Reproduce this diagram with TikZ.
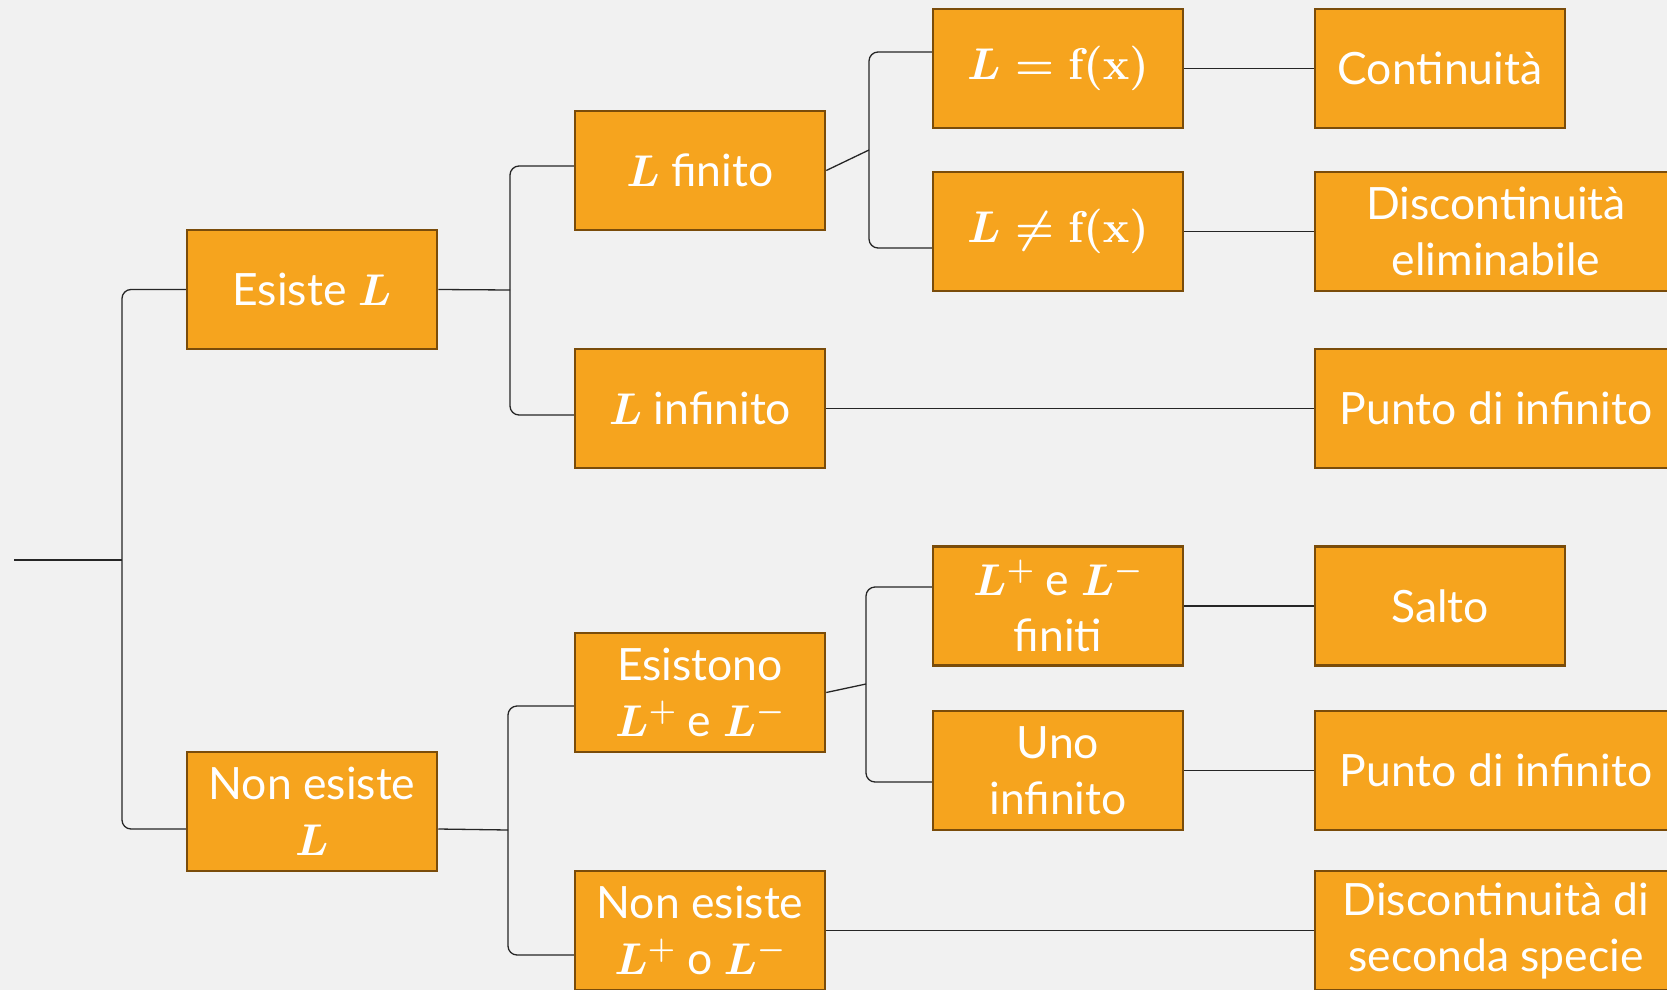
\RequirePackage{fix-cm}
\documentclass[tikz,border=0pt]{standalone}
\usepackage[no-math]{fontspec}
\setmainfont{Lato}
\definecolor{bg}{RGB}{241,241,241}
\definecolor{boxfill}{RGB}{246,164,30}
\definecolor{boxline}{RGB}{122,76,10}
\begin{document}
\begin{tikzpicture}[x=1pt,y=-1pt,
 box/.style={draw=boxline, line width=2.5pt, fill=boxfill, text=white, minimum width=250pt, minimum height=119pt, inner sep=0pt, align=center, font=\fontsize{44.5}{56}\selectfont\boldmath},
 wide/.style={box, minimum width=362pt},
 conn/.style={draw=black!85, line width=1.3pt, rounded corners=9pt}]
\clip (0,0) rectangle (1667,990);
\fill[bg] (0,0) rectangle (1667,990);
% nodes
\node[box] (A) at (312,289.5) {Esiste $L$};
\node[box] (B) at (312,811.5) {Non esiste\\$L$};
\node[box] (C) at (700,170.5) {$L$ finito};
\node[box] (D) at (700,408.5) {$L$ infinito};
\node[box] (E) at (700,692.5) {Esistono\\$L^{+}$ e $L^{-}$};
\node[box] (F) at (700,930.5) {Non esiste\\$L^{+}$ o $L^{-}$};
\node[box] (G) at (1058,68.5) {$L=\mathrm{f}(\mathrm{x})$};
\node[box] (H) at (1058,231.5) {$L\neq\mathrm{f}(\mathrm{x})$};
\node[box] (I) at (1058,606) {$L^{+}$ e $L^{-}$\\finiti};
\node[box] (J) at (1058,770.5) {Uno\\infinito};
\node[box] (K) at (1440,68.5) {Continuità};
\node[wide] (L) at (1496,231.5) {Discontinuità\\eliminabile};
\node[wide] (M) at (1496,408.5) {Punto di infinito};
\node[box] (N) at (1440,606) {Salto};
\node[wide] (O) at (1496,770.5) {Punto di infinito};
\node[wide] (P) at (1496,930.5) {Discontinuità di\\seconda specie};
% connectors
\coordinate (root) at (14,560);
\coordinate (s1) at (122,560);
\draw[conn] (root) -- (s1);
\draw[conn] (A.west) -- (122,289.5) -- (122,829) -- ([yshift=-17.5pt]B.west);
\coordinate (s2) at (510,290);
\draw[conn] (A.east) -- (s2);
\draw[conn] ([yshift=4.5pt]C.west) -- (510,166) -- (510,415) -- ([yshift=-6.5pt]D.west);
\coordinate (s3) at (869,150);
\draw[conn] (C.east) -- (s3);
\draw[conn] ([yshift=16.5pt]G.west) -- (869,52) -- (869,248) -- ([yshift=-16.5pt]H.west);
\draw[conn] (G.east) -- (K.west);
\draw[conn] (H.east) -- (L.west);
\draw[conn] (D.east) -- (M.west);
\coordinate (s4) at (508,830);
\draw[conn] ([yshift=-17.5pt]B.east) -- (s4);
\draw[conn] ([yshift=-13.5pt]E.west) -- (508,706) -- (508,955) -- ([yshift=-24.5pt]F.west);
\coordinate (s5) at (866,684);
\draw[conn] (E.east) -- (s5);
\draw[conn] ([yshift=19pt]I.west) -- (866,587) -- (866,782) -- ([yshift=-11.5pt]J.west);
\draw[conn] (I.east) -- (N.west);
\draw[conn] (J.east) -- (O.west);
\draw[conn] (F.east) -- (P.west);
\end{tikzpicture}
\end{document}
